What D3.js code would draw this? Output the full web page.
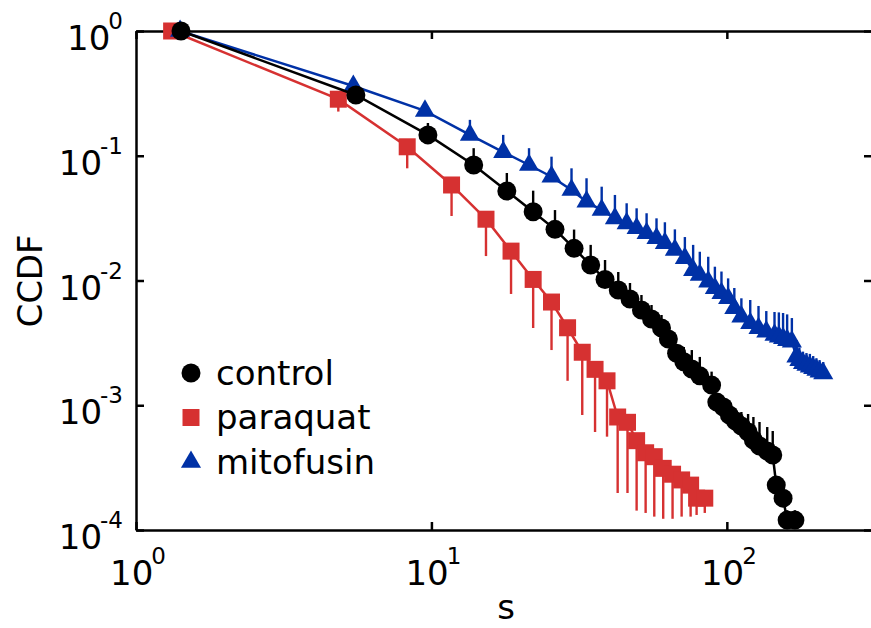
<!DOCTYPE html>
<html>
<head>
<meta charset="utf-8">
<script src="https://cdn.jsdelivr.net/npm/d3@7"></script>
<style>
  body { margin: 0; background: #fff; }
  svg { display: block; font-family: "DejaVu Sans", sans-serif; }
  .axis path, .axis line { stroke: #000; stroke-width: 2.5px; }
</style>
</head>
<body>
<div id="chart"></div>
<script>
// series data (s, CCDF, one-sided error end)
var controlS  = [1.42, 5.55, 9.73, 13.9, 18.0, 22.1, 26.2, 30.4, 34.6, 38.7, 42.9, 47.0, 51.4, 55.6, 60.1, 63.4, 67.6, 71.5, 76.1, 81.0, 88.8, 92.5, 97.3, 102, 107, 112, 118, 123, 129, 137, 143, 147, 155, 160, 170];
var controlC  = [1.0, 0.307, 0.147, 0.0843, 0.0522, 0.0356, 0.0257, 0.0181, 0.0133, 0.0102, 0.00839, 0.00711, 0.0058, 0.00491, 0.00416, 0.0034, 0.00261, 0.00223, 0.00195, 0.00172, 0.00145, 0.00106, 0.000968, 0.000835, 0.000747, 0.000682, 0.00061, 0.000526, 0.000471, 0.00043, 0.000399, 0.000229, 0.00018, 0.00012, 0.00012];
var controlErr = [1.0, 0.33, 0.183, 0.115, 0.0727, 0.0525, 0.0367, 0.0256, 0.0193, 0.0146, 0.0117, 0.00955, 0.00765, 0.00636, 0.00529, 0.00401, 0.00304, 0.00293, 0.00277, 0.00244, 0.00186, 0.00121, 0.0011, 0.00095, 0.000916, 0.000883, 0.000851, 0.000805, 0.000734, 0.000669, 0.000622, 0.000261, 0.000202, 0.000144, 0.000144];

var paraquatS  = [1.32, 4.84, 8.28, 11.7, 15.3, 18.6, 22.1, 25.5, 28.9, 32.4, 35.8, 39.3, 42.7, 46.1, 49.5, 53.1, 56.8, 60.9, 65.5, 70.3, 75.4, 79.0, 84.2];
var paraquatC  = [1.0, 0.284, 0.118, 0.0583, 0.031, 0.0172, 0.0102, 0.00672, 0.00418, 0.00266, 0.00194, 0.00157, 0.000805, 0.00073, 0.00052, 0.000416, 0.000387, 0.000312, 0.00028, 0.000252, 0.000229, 0.00018, 0.00018];
var paraquatErr = [1.0, 0.226, 0.0793, 0.0329, 0.0157, 0.0078, 0.00416, 0.00277, 0.00157, 0.000835, 0.00061, 0.00056, 0.000198, 0.000198, 0.000143, 0.000137, 0.000128, 0.000123, 0.000123, 0.000128, 0.000128, 0.000132, 0.000137];

var mitofusinS  = [1.41, 5.44, 9.51, 13.5, 17.5, 21.4, 25.5, 29.8, 33.5, 37.7, 41.8, 45.8, 49.5, 53.5, 57.8, 61.7, 66.7, 72.1, 76.9, 81.0, 86.5, 91.1, 95.9, 101, 106, 112, 120, 128, 136, 145, 150, 155, 160, 166, 172, 176, 181, 186, 191, 196, 201, 206, 212];
var mitofusinC  = [1.0, 0.362, 0.229, 0.147, 0.107, 0.0843, 0.0679, 0.0531, 0.0428, 0.0367, 0.0315, 0.0287, 0.0262, 0.0239, 0.0218, 0.0199, 0.0176, 0.0151, 0.0121, 0.0111, 0.00978, 0.00866, 0.0079, 0.0072, 0.00599, 0.00513, 0.00454, 0.00414, 0.00389, 0.00366, 0.00355, 0.00344, 0.00333, 0.00323, 0.00245, 0.0023, 0.00217, 0.0021, 0.00204, 0.00198, 0.00192, 0.00186, 0.0018];
var mitofusinErr = [1.0, 0.362, 0.229, 0.194, 0.147, 0.115, 0.0983, 0.0793, 0.066, 0.0565, 0.0485, 0.0416, 0.0379, 0.0346, 0.0315, 0.0293, 0.0257, 0.0223, 0.0193, 0.017, 0.0155, 0.0129, 0.0118, 0.0104, 0.00871, 0.0072, 0.00698, 0.00625, 0.00569, 0.00559, 0.00555, 0.00549, 0.00535, 0.005, 0.00333, 0.0029, 0.00269, 0.00262, 0.00258, 0.00248, 0.00238, 0.0023, 0.00222];

var seriesNames = ["control", "paraquat", "mitofusin"];
var xTickExps = [0, 1, 2];
var yTickExps = [0, -1, -2, -3, -4];

var width = 871, height = 628,
  plotLeft = 136, plotTop = 31, plotRight = 872, plotBottom = 530,
  fontSize = 34, supSize = 23;

var xScale = d3.scaleLog().domain([1, 310]).range([plotLeft, plotRight]);
var yScale = d3.scaleLog().domain([1e-4, 1]).range([plotBottom, plotTop]);

var svg = d3.select("#chart").append("svg")
  .attr("width", width)
  .attr("height", height);

function zip(s, c, e) {
  return s.map(function(d, i) { return {s: d, c: c[i], e: e[i]}; });
}

var colors = {control: "#000000", paraquat: "#d63131", mitofusin: "#0031a6"};
var shapes = {control: "circle", paraquat: "square", mitofusin: "triangle"};

var series = [
  {name: "paraquat", data: zip(paraquatS, paraquatC, paraquatErr)},
  {name: "mitofusin", data: zip(mitofusinS, mitofusinC, mitofusinErr)},
  {name: "control", data: zip(controlS, controlC, controlErr)}
];

// axes, ticks inward on all four sides
var xVals = xTickExps.map(function(e) { return Math.pow(10, e); });
var yVals = yTickExps.map(function(e) { return Math.pow(10, e); });

svg.append("g").attr("class", "axis")
  .attr("transform", "translate(0," + plotBottom + ")")
  .call(d3.axisBottom(xScale).tickValues(xVals).tickSizeInner(-8).tickSizeOuter(0).tickFormat(""));
svg.append("g").attr("class", "axis")
  .attr("transform", "translate(0," + plotTop + ")")
  .call(d3.axisTop(xScale).tickValues(xVals).tickSizeInner(-8).tickSizeOuter(0).tickFormat(""));
svg.append("g").attr("class", "axis")
  .attr("transform", "translate(" + plotLeft + ",0)")
  .call(d3.axisLeft(yScale).tickValues(yVals).tickSizeInner(-8).tickSizeOuter(0).tickFormat(""));
svg.append("g").attr("class", "axis")
  .attr("transform", "translate(" + plotRight + ",0)")
  .call(d3.axisRight(yScale).tickValues(yVals).tickSizeInner(-8).tickSizeOuter(0).tickFormat(""));

// tick labels as 10^n
function powLabel(sel, exp) {
  sel.append("tspan").text("10");
  sel.append("tspan")
    .attr("dx", -2)
    .attr("dy", -21)
    .style("font-size", supSize + "px")
    .text(String(exp));
}

xTickExps.forEach(function(e) {
  var t = svg.append("text")
    .attr("x", xScale(Math.pow(10, e)) + 2)
    .attr("y", 585)
    .attr("text-anchor", "middle")
    .style("font-size", fontSize + "px");
  powLabel(t, e);
});

yTickExps.forEach(function(e) {
  var t = svg.append("text")
    .attr("x", 123)
    .attr("y", yScale(Math.pow(10, e)) + 19)
    .attr("text-anchor", "end")
    .style("font-size", fontSize + "px");
  powLabel(t, e);
});

svg.append("text")
  .attr("x", 506)
  .attr("y", 619)
  .attr("text-anchor", "middle")
  .style("font-size", fontSize + "px")
  .text("s");

svg.append("text")
  .attr("transform", "translate(42,281) rotate(-90)")
  .attr("text-anchor", "middle")
  .style("font-size", fontSize + "px")
  .text("CCDF");

// marks
var line = d3.line()
  .x(function(d) { return xScale(d.s); })
  .y(function(d) { return yScale(d.c); });

function marker(shape) {
  if (shape === "circle") return d3.symbol(d3.symbolCircle, Math.PI * 9.5 * 9.5)();
  if (shape === "square") return d3.symbol(d3.symbolSquare, 17 * 17)();
  return d3.symbol(d3.symbolTriangle, 175)();
}

series.forEach(function(sr) {
  var g = svg.append("g").attr("class", "serie");
  var color = colors[sr.name];

  g.append("path")
    .datum(sr.data)
    .attr("d", line)
    .attr("fill", "none")
    .attr("stroke", color)
    .attr("stroke-width", 2.5);

  g.selectAll(".err")
    .data(sr.data)
    .enter().append("line")
      .attr("class", "err")
      .attr("x1", function(d) { return xScale(d.s); })
      .attr("x2", function(d) { return xScale(d.s); })
      .attr("y1", function(d) { return yScale(d.c); })
      .attr("y2", function(d) { return yScale(d.e); })
      .attr("stroke", color)
      .attr("stroke-width", 2.4);

  g.selectAll(".mark")
    .data(sr.data)
    .enter().append("path")
      .attr("class", "mark")
      .attr("transform", function(d) { return "translate(" + xScale(d.s) + "," + yScale(d.c) + ")"; })
      .attr("d", marker(shapes[sr.name]))
      .attr("fill", color);
});

// legend
var legend = svg.selectAll(".legend")
  .data(seriesNames)
  .enter().append("g")
    .attr("class", "legend")
    .attr("transform", function(d, i) { return "translate(191," + (373 + i * 44.5) + ")"; });

legend.append("path")
  .attr("d", function(d) { return marker(shapes[d]); })
  .attr("fill", function(d) { return colors[d]; });

legend.append("text")
  .attr("x", 25)
  .attr("dy", "0.35em")
  .style("font-size", fontSize + "px")
  .text(function(d) { return d; });
</script>
</body>
</html>
